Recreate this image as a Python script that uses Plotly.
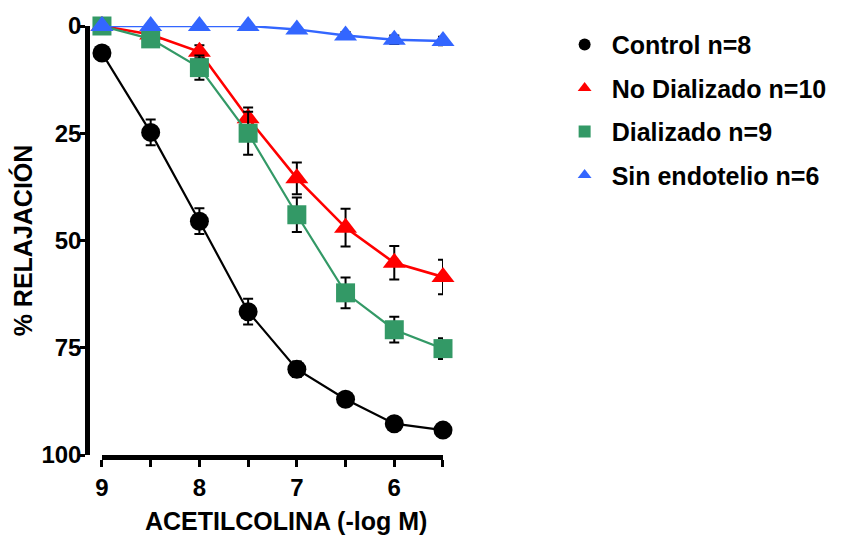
import plotly.graph_objects as go

# Acetylcholine concentration (-log M)
dose = [9, 8.5, 8, 7.5, 7, 6.5, 6, 5.5]

# % relaxation, mean and SEM per group
control = [6.3, 24.8, 45.5, 66.6, 80.0, 87.0, 92.7, 94.2]
control_sem = [1.5, 3.0, 3.0, 3.0, 1.8, 1.2, 1.0, 1.0]

no_dializado = [0, 2.0, 6.0, 21.5, 35.5, 47.0, 55.2, 58.5]
no_dializado_sem = [0, 1.0, 1.5, 2.5, 3.7, 4.4, 3.9, 4.0]

dializado = [0, 3.0, 9.7, 25.0, 44.0, 62.2, 70.8, 75.2]
dializado_sem = [0, 1.0, 2.8, 5.0, 4.0, 3.6, 3.0, 2.4]

sin_endotelio = [0, 0, 0, 0, 0.8, 2.2, 3.2, 3.5]
sin_endotelio_sem = [0, 0, 0, 0, 0.5, 0.8, 1.0, 1.0]

series = [
    ("Control n=8", control, control_sem, "#000000", "circle", 19, 2.2),
    ("No Dializado n=10", no_dializado, no_dializado_sem, "#FF0000", "triangle-up", 20, 2.6),
    ("Dializado n=9", dializado, dializado_sem, "#339966", "square", 19, 2.2),
    ("Sin endotelio n=6", sin_endotelio, sin_endotelio_sem, "#3366FF", "triangle-up", 20, 2.4),
]

x_ticks = [9, 8.5, 8, 7.5, 7, 6.5, 6, 5.5]
x_ticktext = ["9", "", "8", "", "7", "", "6", ""]
y_ticks = [0, 25, 50, 75, 100]

FONT = "Arial, Liberation Sans, sans-serif"

fig = go.Figure()
for i, (name, vals, sem, color, symbol, size, lw) in enumerate(series):
    fig.add_trace(go.Scatter(
        x=dose, y=vals, mode="lines",
        line=dict(color=color, width=lw),
        showlegend=False, hoverinfo="skip", cliponaxis=False,
    ))
    fig.add_trace(go.Scatter(
        x=dose, y=vals, mode="markers", name=name,
        legendgroup=f"g{i}",
        marker=dict(symbol=symbol, size=size, color=color, line=dict(width=0)),
        error_y=dict(type="data", array=sem, visible=True,
                     color="#000000", thickness=2, width=5),
        cliponaxis=False,
    ))

# x-axis title, centred under the labelled tick range
fig.add_annotation(
    text="ACETILCOLINA (-log M)", xref="paper", yref="paper",
    x=0.56, y=-0.153, xanchor="center", yanchor="middle", showarrow=False,
    font=dict(family=FONT, size=25, weight="bold", color="black"),
)

fig.update_layout(
    width=843, height=537,
    margin=dict(l=87, r=399, t=24, b=82),
    paper_bgcolor="white", plot_bgcolor="white",
    font=dict(family=FONT, size=24, color="black", weight="bold"),
    xaxis=dict(
        domain=[15 / 357, 1], range=[9, 5.5], anchor="y",
        showline=True, linewidth=4.5, linecolor="black",
        ticks="outside", ticklen=7, tickwidth=3, tickcolor="black",
        tickvals=x_ticks, ticktext=x_ticktext,
        tickfont=dict(family=FONT, size=24, weight="bold"),
        showgrid=False, zeroline=False,
    ),
    yaxis=dict(
        range=[100, 0], anchor="free", position=0,
        showline=True, linewidth=4.5, linecolor="black",
        ticks="outside", ticklen=5, tickwidth=3, tickcolor="black",
        tickvals=y_ticks, ticklabelstandoff=-6,
        tickfont=dict(family=FONT, size=24, weight="bold"),
        showgrid=False, zeroline=False,
        title=dict(text="% RELAJACIÓN",
                   font=dict(family=FONT, size=25, weight="bold"), standoff=0),
    ),
    legend=dict(
        x=1.322, y=1.01, xanchor="left", yanchor="top",
        font=dict(family=FONT, size=25, weight="bold"),
        itemsizing="constant", itemwidth=44, tracegroupgap=8,
        bgcolor="rgba(0,0,0,0)",
    ),
)

fig.write_html("out.html")
